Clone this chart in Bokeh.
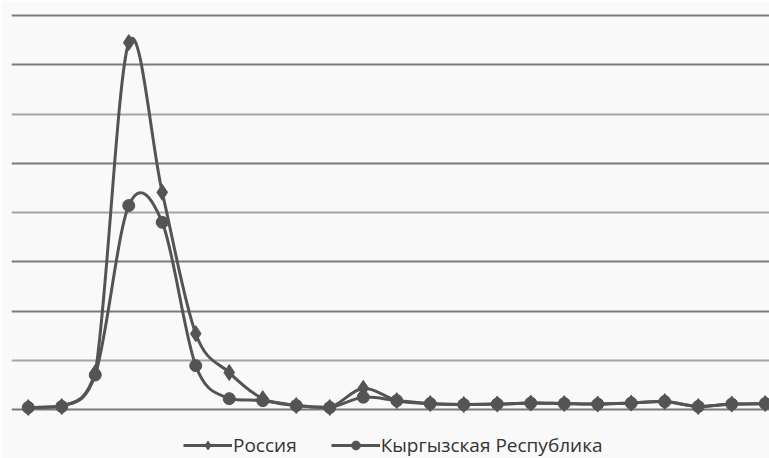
import numpy as np
from bokeh.plotting import figure
from bokeh.models import Range1d, Grid, FixedTicker, Legend, LegendItem, ColumnDataSource
from bokeh.embed import file_html
from bokeh.resources import INLINE

# data (y units arbitrary: one gridline = 10)
periods = list(range(23))
russia = [0.4, 0.6, 7.5, 74.5, 44.1, 15.4, 7.5, 2.2, 0.8, 0.4, 4.3, 1.8,
          1.2, 1.0, 1.1, 1.3, 1.2, 1.1, 1.3, 1.6, 0.6, 1.1, 1.2]
kyrgyz = [0.4, 0.6, 7.0, 41.4, 38.0, 8.9, 2.2, 1.8, 0.8, 0.4, 2.5, 1.8,
          1.2, 1.0, 1.1, 1.3, 1.2, 1.1, 1.3, 1.6, 0.6, 1.1, 1.2]
series_names = ["Россия", "Кыргызская Республика"]
grid_dark = [0, 20, 30, 50, 70, 80]
grid_light = [10, 40, 60]

LINE = "#545454"
BG = "#f9f9f9"

p = figure(width=769, height=458, output_backend="svg", toolbar_location=None,
           x_axis_type=None, y_axis_type=None,
           x_range=Range1d(-0.5, 22.127), y_range=Range1d(-9.95, 80.41),
           min_border_left=11, min_border_right=0, min_border_top=13, min_border_bottom=0)
p.outline_line_color = None
p.background_fill_color = BG
p.border_fill_color = BG

p.add_layout(Grid(dimension=1, ticker=FixedTicker(ticks=grid_dark),
                  grid_line_color="#7a7a7a", grid_line_width=2.2))
p.add_layout(Grid(dimension=1, ticker=FixedTicker(ticks=grid_light),
                  grid_line_color="#a5a5a5", grid_line_width=1.8))


def bezier_parts(x, y):
    """Smoothed-line segments (Catmull-Rom style), no undershoot below a segment's lower end."""
    x = np.asarray(x, float)
    y = np.asarray(y, float)
    xp = np.concatenate([[x[0]], x, [x[-1]]])
    yp = np.concatenate([[y[0]], y, [y[-1]]])
    n = len(x)
    d = dict(x0=[], y0=[], x1=[], y1=[], cx0=[], cy0=[], cx1=[], cy1=[])
    for i in range(n - 1):
        P0x, P1x, P2x, P3x = xp[i], xp[i + 1], xp[i + 2], xp[i + 3]
        P0y, P1y, P2y, P3y = yp[i], yp[i + 1], yp[i + 2], yp[i + 3]
        lo = min(P1y, P2y)
        d["x0"].append(P1x); d["y0"].append(P1y)
        d["x1"].append(P2x); d["y1"].append(P2y)
        d["cx0"].append(P1x + (P2x - P0x) / 6)
        d["cy0"].append(max(P1y + (P2y - P0y) / 6, lo))
        d["cx1"].append(P2x - (P3x - P1x) / 6)
        d["cy1"].append(max(P2y - (P3y - P1y) / 6, lo))
    return ColumnDataSource(d)


items = []
for vals, name, marker, msize in [(russia, series_names[0], "diamond", 16),
                                  (kyrgyz, series_names[1], "circle", 12)]:
    src = bezier_parts(periods, vals)
    p.bezier(x0="x0", y0="y0", x1="x1", y1="y1", cx0="cx0", cy0="cy0",
             cx1="cx1", cy1="cy1", source=src, line_color=LINE, line_width=3)
    sc = p.scatter(periods, vals, marker=marker, size=msize,
                   fill_color=LINE, line_color=LINE)
    dummy = p.line(x=[float("nan"), float("nan")], y=[float("nan"), float("nan")],
                   line_color=LINE, line_width=3)
    items.append(LegendItem(label=name, renderers=[dummy, sc]))

legend = Legend(items=items, orientation="horizontal", location=(172, 0),
                glyph_width=49, glyph_height=22, label_standoff=1, spacing=34,
                padding=0, margin=0, border_line_alpha=0, background_fill_alpha=0,
                label_text_font="Open Sans", label_text_font_size="19px",
                label_text_color="#333333")
p.add_layout(legend)

open("out.html", "w").write(file_html(p, INLINE))
